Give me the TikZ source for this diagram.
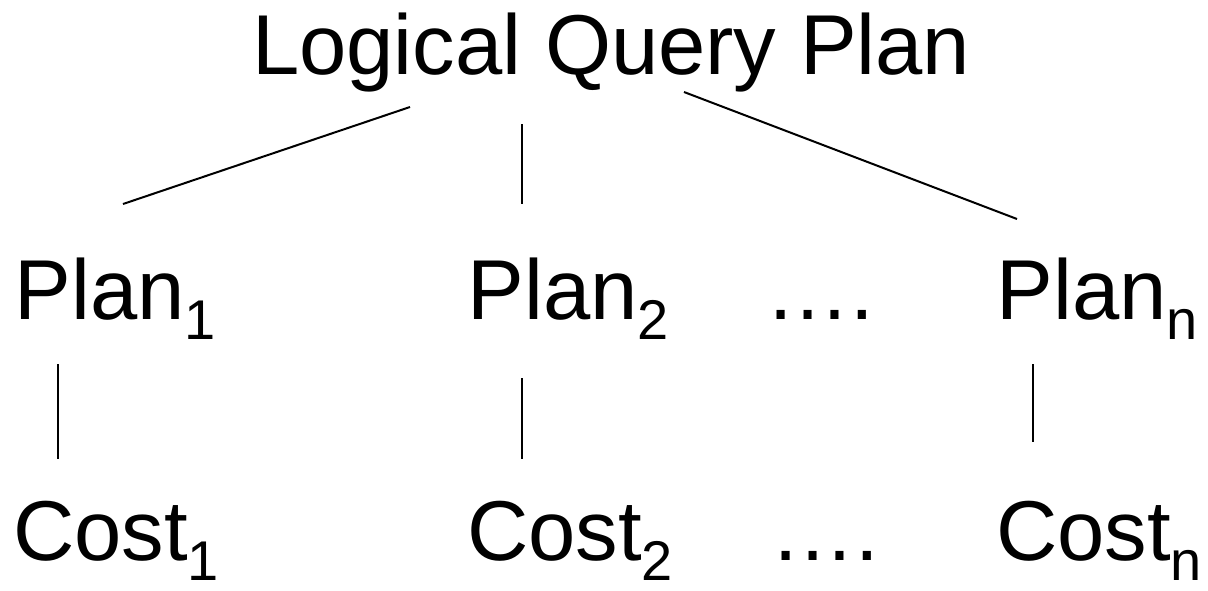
\documentclass[tikz,border=0pt]{standalone}
\usepackage{fontspec}
\setmainfont{Liberation Sans}
% lowered index in a smaller size
\newcommand\lowidx[1]{\raisebox{-20pt}{\fontsize{56}{60}\selectfont #1}}
\begin{document}
\begin{tikzpicture}[x=1pt,y=-1pt,
  lbl/.style={anchor=base west,inner sep=0pt,font=\fontsize{85}{100}\selectfont},
  edge/.style={line width=2pt,black}]
\useasboundingbox (0,0) rectangle (1208,590);

% labels
\node[lbl] (root) at (252,74) {Logical Query Plan};
\node[lbl] (p1) at (14.5,319) {Plan\lowidx{1}};
\node[lbl] (p2) at (467.5,319) {Plan\lowidx{2}};
\node[lbl] (pd) at (765,319) {….};
\node[lbl] (pn) at (996.5,319) {Plan\lowidx{n}};
\node[lbl] (c1) at (13,560) {Cost\lowidx{1}};
\node[lbl] (c2) at (467,560) {Cost\lowidx{2}};
\node[lbl] (cd) at (770,560) {….};
\node[lbl] (cn) at (996,560) {Cost\lowidx{n}};

% line end points
\coordinate (r1) at (410,107);
\coordinate (r2) at (522,124);
\coordinate (r3) at (684,92);
\coordinate (p1t) at (123,204);
\coordinate (p2t) at (522,204);
\coordinate (pnt) at (1017,219);
\coordinate (p1b) at (58,364);
\coordinate (p2b) at (522,378);
\coordinate (pnb) at (1033,364);
\coordinate (c1t) at (58,459);
\coordinate (c2t) at (522,459);
\coordinate (cnt) at (1033,442);

% tree edges
\draw[edge] (r1) -- (p1t);
\draw[edge] (r2) -- (p2t);
\draw[edge] (r3) -- (pnt);
\draw[edge] (p1b) -- (c1t);
\draw[edge] (p2b) -- (c2t);
\draw[edge] (pnb) -- (cnt);
\end{tikzpicture}
\end{document}
